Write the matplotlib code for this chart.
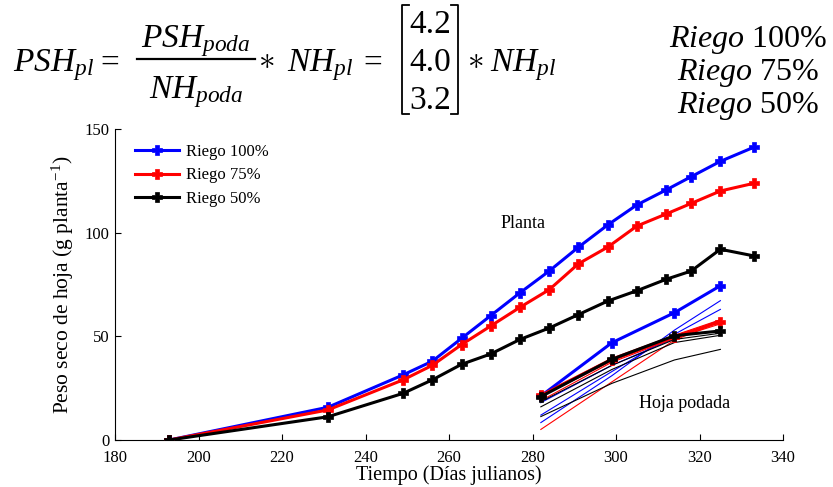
import numpy as np
import matplotlib
matplotlib.use("Agg")
from matplotlib import pyplot as plt
from matplotlib.lines import Line2D

# ---- data ----
dias_planta = [193, 231, 249, 256, 263, 270, 277, 284, 291, 298, 305, 312, 318, 325, 333]
planta_100 = [0, 15.8, 31.4, 38.0, 49.0, 60.0, 71.0, 81.5, 93.0, 103.7, 113.4, 120.6, 127.0, 134.4, 141.2]
planta_75 = [0, 14.5, 29.0, 36.0, 46.0, 55.0, 64.0, 72.5, 85.0, 93.0, 103.2, 109.0, 114.1, 120.1, 123.8]
planta_50 = [0, 11.2, 22.5, 29.0, 36.5, 41.5, 48.5, 54.0, 60.5, 67.0, 72.0, 77.5, 81.5, 92.0, 88.8]

dias_poda = [282, 299, 314, 325]
poda_100 = [21.2, 46.9, 61.4, 74.4]
poda_75 = [21.5, 38.6, 49.8, 57.1]
poda_50 = [20.9, 38.9, 50.3, 52.6]

# individual pruned-leaf samples (thin lines)
muestras_100 = [[8.4, 31.0, 53.0, 67.2], [12.0, 33.0, 51.0, 63.0], [18.0, 36.0, 49.0, 58.0]]
muestras_75 = [[5.1, 28.0, 48.2, 57.0], [19.0, 37.5, 49.0, 56.0], [22.0, 39.5, 50.5, 58.0]]
muestras_50 = [[11.3, 27.3, 38.6, 43.7], [16.0, 34.0, 47.0, 50.5], [18.5, 36.0, 48.5, 51.5]]

riegos = ["100", "75", "50"]
etiquetas = ["Riego %s%%" % r for r in riegos]
factores = ["4.2", "4.0", "3.2"]
colores = ["#0000ff", "#ff0000", "#000000"]

plt.rcParams["font.family"] = ["Liberation Serif", "DejaVu Serif"]
plt.rcParams["mathtext.fontset"] = "custom"
plt.rcParams["mathtext.rm"] = "Liberation Serif"
plt.rcParams["mathtext.it"] = "Liberation Serif:italic"

W, H = 833, 487
fig = plt.figure(figsize=(W / 100, H / 100), dpi=100)


def fx(px):
    return px / W


def fy(py):
    return 1 - py / H


ax = fig.add_axes([fx(115), fy(440), (783 - 115) / W, (440 - 129) / H])

series_planta = [planta_100, planta_75, planta_50]
series_poda = [poda_100, poda_75, poda_50]
series_muestras = [muestras_100, muestras_75, muestras_50]

for muestras, c in zip(series_muestras, colores):
    for m in muestras:
        ax.plot(dias_poda, m, color=c, lw=0.8, zorder=2)

for ys, c, lab in zip(series_planta, colores, etiquetas):
    ax.plot(dias_planta, ys, color=c, lw=2.2, marker="P", ms=7, mew=0.5, label=lab, zorder=3)

for ys, c in zip(series_poda, colores):
    ax.plot(dias_poda, ys, color=c, lw=2.2, marker="P", ms=7, mew=0.5, zorder=4)

ax.text(277.8, 104.2, "Planta", fontsize=13, ha="center", va="center")
ax.text(316.4, 17.4, "Hoja podada", fontsize=13, ha="center", va="center")

ax.set_xlim(180, 340)
ax.set_ylim(0, 150)
ax.set_xticks(np.arange(180, 341, 20))
ax.set_yticks([0, 50, 100, 150])
ax.spines["top"].set_visible(False)
ax.spines["right"].set_visible(False)
ax.tick_params(direction="in", length=4, labelsize=12)
ax.tick_params(axis="x", pad=7)
ax.tick_params(axis="y", pad=4)
ax.set_xlabel("Tiempo (Días julianos)", fontsize=14.5, labelpad=0)
ax.set_ylabel("Peso seco de hoja (g planta$^{-1}$)", fontsize=15.5, labelpad=6)

ax.legend(loc="upper left", bbox_to_anchor=(0.008, 1.0), frameon=False, fontsize=12,
          handlelength=2.6, labelspacing=0.45, handletextpad=0.45)

# ---- equation on top ----
fs = 24
base = 71


def eq(px, py, s, ha="left"):
    fig.text(fx(px), fy(py), s, fontsize=fs, ha=ha, va="baseline")


eq(13, base, r"$PSH_{pl}$")
eq(108, base, r"$=$", ha="center")
eq(196, 47, r"$PSH_{poda}$", ha="center")
eq(196, 98, r"$NH_{poda}$", ha="center")
fig.add_artist(Line2D([fx(137), fx(255)], [fy(59), fy(59)], color="black", lw=1.6))
eq(266, base - 3, r"$\ast$", ha="center")
eq(287, base, r"$NH_{pl}$")
eq(371, base, r"$=$", ha="center")
for f, py in zip(factores, [33, 71, 109]):
    eq(430, py, f, ha="center")
for xb, d in [(402, 1), (458, -1)]:
    fig.add_artist(Line2D([fx(xb + 7 * d), fx(xb), fx(xb), fx(xb + 7 * d)],
                          [fy(5), fy(5), fy(114), fy(114)], color="black", lw=1.3))
eq(475, base - 3, r"$\ast$", ha="center")
eq(490, base, r"$NH_{pl}$")

riego_txt = "\n".join(r"$\mathit{Riego}\ \mathrm{%s\%%}$" % r for r in riegos)
fig.text(fx(748), fy(73), riego_txt, fontsize=23, ha="center", va="center",
         multialignment="center", linespacing=1.05)

fig.savefig("out.png", dpi=100)
